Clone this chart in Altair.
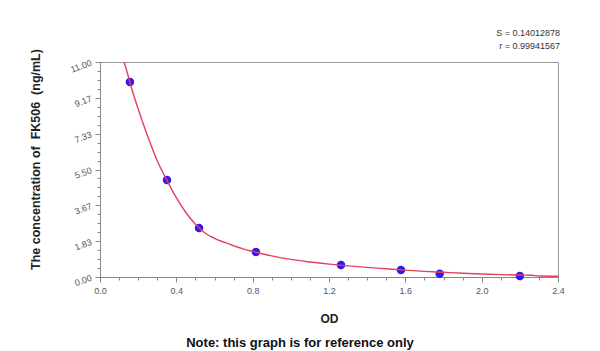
import altair as alt
import pandas as pd

# Measured standard points
pt_od = [0.157, 0.351, 0.519, 0.817, 1.263, 1.577, 1.78, 2.20]
pt_conc = [9.98, 4.96, 2.51, 1.28, 0.61, 0.36, 0.17, 0.05]

# Fitted curve
curve_od = [0.126, 0.14, 0.16, 0.18, 0.20, 0.25, 0.30, 0.35, 0.40, 0.45, 0.50,
            0.55, 0.60, 0.65, 0.70, 0.75, 0.80, 0.90, 1.00, 1.10, 1.20, 1.30,
            1.40, 1.50, 1.60, 1.70, 1.80, 1.90, 2.00, 2.10, 2.20, 2.26, 2.30, 2.40]
curve_conc = [11.0, 10.55, 9.85, 9.2, 8.6, 7.2, 5.95, 4.96, 4.06, 3.3, 2.7,
              2.25, 1.98, 1.78, 1.6, 1.44, 1.31, 1.08, 0.9, 0.77, 0.66, 0.57,
              0.49, 0.42, 0.35, 0.29, 0.24, 0.19, 0.15, 0.12, 0.1, 0.09, 0.05, 0.04]

y_ticks = [i * 11 / 24 for i in range(25)]
x_ticks = [round(i * 0.1, 1) for i in range(25)]

stats_text = "S = 0.14012878\nr = 0.99941567"
note_text = "Note: this graph is for reference only"
y_title = "The concentration of\u00a0\u00a0FK506\u00a0\u00a0(ng/mL)"
x_title = "OD"

pts = pd.DataFrame({"OD": pt_od, "conc": pt_conc})
crv = pd.DataFrame({"OD": curve_od, "conc": curve_conc})
ann = pd.DataFrame({"t": [0]})

FONT = "Liberation Sans"

x_scale = alt.Scale(domain=[0, 2.4], nice=False, zero=False)
y_scale = alt.Scale(domain=[0, 11], nice=False, zero=False)

x_axis = alt.Axis(
    values=x_ticks,
    labelExpr="round(datum.value*10) % 4 == 0 ? format(datum.value, '.1f') : ''",
    tickSize={"condition": {"test": "round(datum.value*10) % 4 == 0", "value": 5}, "value": 3},
    labelOverlap=False, labelFlush=False, grid=False,
    title=x_title, titleFont=FONT, titleFontSize=12, titleFontWeight="bold",
    titleColor="#222", titleX=229, titleY=41, titleBaseline="middle", titleAlign="center",
    labelFont=FONT, labelFontSize=9, labelColor="#555", labelPadding=4,
    domainColor="#888", tickColor="#888",
)
y_axis = alt.Axis(
    values=y_ticks,
    labelExpr="round(datum.value*24/11) % 4 == 0 ? format(datum.value, '.2f') : ''",
    tickSize={"condition": {"test": "round(datum.value*24/11) % 4 == 0", "value": 5}, "value": 3},
    labelOverlap=False, labelFlush=False, grid=False, labelAngle=340,
    title=y_title, titleFont=FONT, titleFontSize=12.5, titleFontWeight="bold",
    titleColor="#222", titleX=-65, titleY=97, titleAngle=270,
    titleBaseline="middle", titleAlign="center",
    labelFont=FONT, labelFontSize=9, labelColor="#555", labelPadding=4,
    domainColor="#888", tickColor="#888",
)

points = alt.Chart(pts).mark_circle(size=72, color="#3418ea", opacity=1).encode(
    x=alt.X("OD:Q", scale=x_scale, axis=x_axis),
    y=alt.Y("conc:Q", scale=y_scale, axis=y_axis),
)
line = alt.Chart(crv).mark_line(color="#e4405e", strokeWidth=1.4, interpolate="monotone", clip=True).encode(
    x=alt.X("OD:Q", scale=x_scale, axis=x_axis),
    y=alt.Y("conc:Q", scale=y_scale, axis=y_axis),
)
stats = alt.Chart(ann).mark_text(
    text=stats_text, lineBreak="\n", align="right", baseline="alphabetic",
    font=FONT, fontSize=9, color="#333", lineHeight=12.5,
).encode(x=alt.value(460), y=alt.value(-26))
note = alt.Chart(ann).mark_text(
    text=note_text, align="center", baseline="alphabetic",
    font=FONT, fontSize=13, fontWeight="bold", color="#111",
).encode(x=alt.value(200), y=alt.value(285))

chart = alt.layer(points, line, stats, note).properties(
    width=458, height=215,
    autosize=alt.AutoSizeParams(type="none"),
    padding={"left": 100, "top": 62, "right": 42, "bottom": 74},
    background="white",
).configure_view(stroke="#999", strokeWidth=1)

chart.save("out.html", embed_options={"renderer": "svg", "actions": False})
